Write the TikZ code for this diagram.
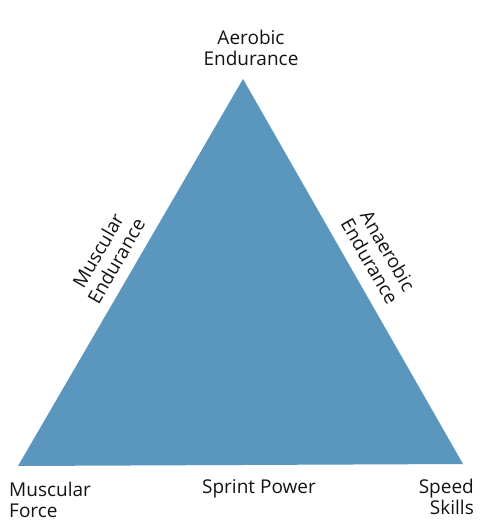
\documentclass[tikz,border=0pt]{standalone}
\usepackage{fontspec}
\setmainfont{Open Sans}
\definecolor{triblue}{RGB}{90,150,189}
\definecolor{txt}{RGB}{20,20,20}
\tikzset{
  lbl/.style={font=\fontsize{19}{21}\selectfont, text=txt, inner sep=0pt, align=center},
}
\begin{document}
\begin{tikzpicture}[x=1pt,y=-1pt]
\useasboundingbox (0,0) rectangle (481,527);
\fill[white] (0,0) rectangle (481,527);
\coordinate (top) at (243,79);
\coordinate (bl) at (18,466);
\coordinate (br) at (463,464);
\fill[triblue] (top) -- (bl) -- (br) -- cycle;
\node[lbl] (aero) at (251,48) {Aerobic\\Endurance};
\node[lbl, rotate=60] (muse) at (107,256) {Muscular\\Endurance};
\node[lbl, rotate=-60] (anae) at (379,256) {Anaerobic\\Endurance};
\node[lbl, align=left, anchor=west] (musf) at (9,500) {Muscular\\Force};
\node[lbl] (spr) at (259,489) {Sprint Power};
\node[lbl, align=right, anchor=east] (spd) at (474,497) {Speed\\Skills};
\end{tikzpicture}
\end{document}
